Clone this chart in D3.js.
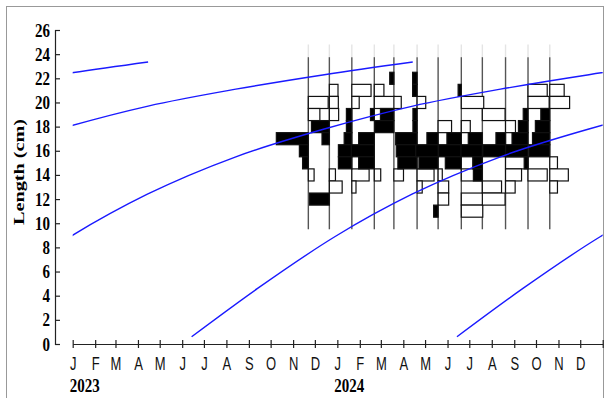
<!DOCTYPE html>
<html>
<head>
<meta charset="utf-8">
<script src="https://cdn.jsdelivr.net/npm/d3@7"></script>
<style>
body { margin: 0; background: #fff; }
svg { display: block; }
</style>
</head>
<body>
<svg width="609" height="398"></svg>
<script>
// month initials for the time axis
var monthLabels = ["J", "F", "M", "A", "M", "J", "J", "A", "S", "O", "N", "D"];
var yearLabels = [["2023-01-01", "2023"], ["2024-01-01", "2024"]];
var yTicks = [0, 2, 4, 6, 8, 10, 12, 14, 16, 18, 20, 22, 24, 26];

// sampling dates (one vertical line each)
var sampleDates = ["2023-11-22", "2023-12-21", "2024-01-21", "2024-02-21", "2024-03-19", "2024-04-20",
                   "2024-05-19", "2024-06-20", "2024-07-19", "2024-08-20", "2024-09-20", "2024-10-20"];

// restructured scores, [length class (cm), score]; + black to the left, - white to the right
var s01 = [[20, -0.62], [19, -0.36], [17, 1.0], [16, 0.28], [15, 0.18], [14, -0.18]];
var s02 = [[21, -0.27], [20, -0.28], [19, -0.29], [18, 0.56], [17, 0.23], [14, -0.19], [13, -0.4], [12, 0.62]];
var s03 = [[21, -0.6], [20, -0.23], [19, 0.17], [18, 0.17], [17, 0.24], [16, 0.42], [15, 0.42], [14, -0.54], [13, -0.13]];
var s04 = [[21, -0.3], [20, -0.63], [19, 0.12], [17, 0.49], [16, 0.72], [15, 0.49], [14, -0.2]];
var s05 = [[22, 0.13], [20, -0.23], [19, 0.42], [18, 0.6], [14, -0.3]];
var s06 = [[22, 0.14], [21, 0.14], [20, -0.27], [19, 0.13], [18, 0.13], [17, 0.67], [16, 0.65], [15, 0.6], [14, -0.53], [13, -0.16]];
var s07 = [[18, -0.42], [17, 0.35], [16, 0.7], [15, 0.6], [14, -0.13], [13, -0.33], [12, -0.33], [11, 0.14]];
var s08 = [[21, 0.1], [20, -0.7], [18, -0.28], [17, 0.45], [16, 0.71], [15, 0.5], [14, -0.65], [12, -0.67], [11, -0.67]];
var s09 = [[19, -0.71], [17, 0.44], [16, 0.67], [15, 0.3], [14, 0.28], [13, -0.6], [12, -0.71]];
var s10 = [[18, -0.31], [17, 0.3], [16, 0.71], [15, -0.7], [14, -0.5], [13, -0.3]];
var s11 = [[21, -0.6], [20, -0.66], [19, 0.15], [18, 0.3], [17, 0.5], [16, 0.7], [15, 0.12], [14, -0.6]];
var s12 = [[21, -0.45], [20, -0.62], [19, 0.28], [18, 0.45], [17, 0.54], [16, 0.65], [15, -0.24], [14, -0.58], [13, -0.24]];
var samples = [s01, s02, s03, s04, s05, s06, s07, s08, s09, s10, s11, s12];

// growth curve: age (months) vs length (cm)
var growthAge = [0, 3, 6.5, 10, 14, 18, 22, 26, 30, 34];
var growthLen = [0.6, 4.6, 8.9, 12.4, 15.5, 17.8, 19.7, 21.1, 22.3, 23.35];
// cohort start dates (one curve per cohort)
var cohortStarts = ["2020-06-14", "2021-06-14", "2022-06-14", "2023-06-14", "2024-06-14"];

var parse = d3.timeParse("%Y-%m-%d");
var svg = d3.select("svg");

var x = d3.scaleTime()
    .domain([parse("2023-01-01"), parse("2025-01-01")])
    .range([72.7, 602.7]);
var y = d3.scaleLinear().domain([0, 26]).range([344, 30]);
var barW = d3.scaleLinear().domain([0, 1]).range([0, 32]);

var serif = "'Liberation Serif', 'Times New Roman', serif";
var sans = "'Liberation Sans', Arial, sans-serif";

// outer frame
svg.append("rect")
    .attr("x", 6.5).attr("y", 6.5)
    .attr("width", 597).attr("height", 400)
    .attr("fill", "none")
    .attr("stroke", "#999")
    .attr("stroke-width", 1);

// y axis
var yAxis = svg.append("g")
    .attr("transform", "translate(55,0)")
    .call(d3.axisLeft(y).tickValues(yTicks).tickSize(-5).tickSizeOuter(-5).tickPadding(5));
yAxis.selectAll("path, line").attr("stroke", "#222").attr("stroke-width", 1.2);
yAxis.selectAll("text")
    .attr("dy", null)
    .attr("y", null)
    .attr("transform", "translate(0,6) scale(1,1.25)")
    .style("font-family", serif)
    .style("font-weight", "bold")
    .style("font-size", "15px")
    .attr("fill", "#000");

svg.append("text")
    .attr("transform", "translate(24,172) rotate(-90) scale(1.35,1)")
    .attr("text-anchor", "middle")
    .style("font-family", serif)
    .style("font-weight", "bold")
    .style("font-size", "15px")
    .text("Length (cm)");

// x axis
var xAxis = svg.append("g")
    .attr("transform", "translate(0,344)")
    .call(d3.axisBottom(x)
        .ticks(d3.timeMonth.every(1))
        .tickSizeInner(4)
        .tickSizeOuter(0)
        .tickFormat(function (d) {
            return d >= x.domain()[1] ? "" : monthLabels[d.getMonth()];
        }));
xAxis.selectAll("path, line").attr("stroke", "#222").attr("stroke-width", 1.2);
xAxis.selectAll(".tick line").attr("y1", -4).attr("y2", 4);
xAxis.selectAll("text")
    .attr("y", null)
    .attr("dy", null)
    .attr("transform", "translate(0,26) scale(1,1.35)")
    .style("font-family", sans)
    .style("font-size", "13px")
    .attr("fill", "#111");

svg.selectAll(".year")
    .data(yearLabels)
    .enter()
    .append("text")
    .attr("class", "year")
    .attr("transform", function (d) {
        return "translate(" + (x(parse(d[0])) - 3) + ",392) scale(1,1.3)";
    })
    .style("font-family", serif)
    .style("font-weight", "bold")
    .style("font-size", "15px")
    .text(function (d) { return d[1]; });

// sample lines (faint stub above, dark line through the histograms)
var lineTop = 23.75;
var lineBottom = 9.5;
var ghostTop = 24.8;
svg.selectAll(".ghost")
    .data(sampleDates)
    .enter()
    .append("line")
    .attr("class", "ghost")
    .attr("x1", function (d) { return x(parse(d)); })
    .attr("x2", function (d) { return x(parse(d)); })
    .attr("y1", y(ghostTop))
    .attr("y2", y(lineTop))
    .attr("stroke", "#e4e4e4")
    .attr("stroke-width", 1.4);

svg.selectAll(".sline")
    .data(sampleDates)
    .enter()
    .append("line")
    .attr("class", "sline")
    .attr("x1", function (d) { return x(parse(d)); })
    .attr("x2", function (d) { return x(parse(d)); })
    .attr("y1", y(lineTop))
    .attr("y2", y(lineBottom))
    .attr("stroke", "#555")
    .attr("stroke-width", 1.4);

// histogram bars
var bars = [];
samples.forEach(function (s, i) {
    var xs = x(parse(sampleDates[i]));
    s.forEach(function (b) {
        bars.push({ xs: xs, len: b[0], v: b[1] });
    });
});
bars.sort(function (a, b) { return (a.v > 0) - (b.v > 0); });

svg.selectAll(".bar")
    .data(bars)
    .enter()
    .append("rect")
    .attr("class", "bar")
    .attr("x", function (d) { return d.v > 0 ? d.xs - barW(d.v) : d.xs; })
    .attr("y", function (d) { return y(d.len + 0.5); })
    .attr("width", function (d) { return barW(Math.abs(d.v)); })
    .attr("height", function (d) { return y(d.len - 0.5) - y(d.len + 0.5); })
    .attr("fill", function (d) { return d.v > 0 ? "#000" : "#fff"; })
    .attr("stroke", "#111")
    .attr("stroke-width", 1.2);

// growth curves
svg.append("clipPath")
    .attr("id", "plotclip")
    .append("rect")
    .attr("x", x.range()[0]).attr("y", 0)
    .attr("width", x.range()[1] - x.range()[0]).attr("height", 398);

var line = d3.line()
    .x(function (d) { return x(d[0]); })
    .y(function (d) { return y(d[1]); })
    .curve(d3.curveMonotoneX);

svg.append("g")
    .attr("clip-path", "url(#plotclip)")
    .selectAll("path")
    .data(cohortStarts)
    .enter()
    .append("path")
    .attr("d", function (c) {
        var start = parse(c);
        var pts = growthAge.map(function (a, k) {
            return [d3.timeDay.offset(start, Math.round(a * 30.44)), growthLen[k]];
        });
        return line(pts);
    })
    .attr("fill", "none")
    .attr("stroke", "#1a1aff")
    .attr("stroke-width", 1.4);
</script>
</body>
</html>
